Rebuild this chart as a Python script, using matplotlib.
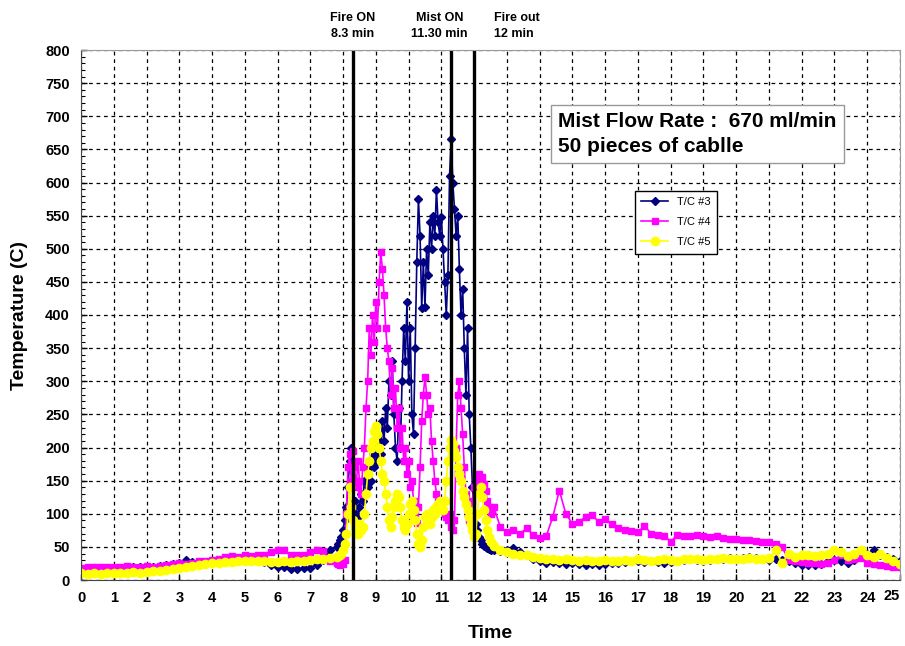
import numpy as np
import matplotlib
matplotlib.use('Agg')
import matplotlib.pyplot as plt
from matplotlib.ticker import MultipleLocator

plt.rcParams['font.family'] = ['Liberation Sans', 'DejaVu Sans']

# sample times (min): slow before fire, fine during fire, slow after
t_pre = np.linspace(0.0, 7.6, 39)
t_fire = np.linspace(7.8, 12.5, 95)
t_post = np.linspace(12.6, 25.0, 63)
time = np.concatenate([t_pre, t_fire, t_post])

tc3 = [15, 16, 16, 17, 17, 18, 18, 18, 19, 19,
       20, 20, 21, 22, 24, 25, 30, 27, 26, 27,
       28, 28, 29, 30, 30, 30, 29, 28, 27, 22,
       20, 19, 17, 16, 18, 18, 22, 30, 45,
       # fire
       50, 55, 60, 65, 75, 90, 110, 140, 180, 200,
       150, 120, 100, 95, 110, 130, 120, 150, 170, 140,
       170, 150, 190, 170, 200, 180, 210, 190, 240, 210,
       260, 230, 300, 280, 330, 250, 200, 180, 260, 200,
       300, 380, 330, 420, 300, 380, 250, 220, 350, 480,
       575, 520, 410, 480, 412, 500, 460, 540, 500, 550,
       520, 589, 540, 520, 548, 500, 450, 400, 460, 610,
       665, 600, 560, 520, 550, 470, 400, 440, 350, 280,
       380, 250, 200, 140, 100, 85, 75, 65, 60, 55,
       52, 50, 48, 47, 46,
       # after
       45, 44, 45, 48, 42, 38, 32, 28, 26, 27,
       25, 24, 25, 24, 23, 24, 23, 24, 26, 25,
       27, 29, 28, 27, 28, 27, 26, 27, 28, 30,
       32, 30, 29, 30, 31, 32, 33, 32, 33, 35,
       33, 31, 30, 32, 30, 28, 25, 22, 23, 22,
       24, 28, 30, 28, 26, 30, 34, 40, 45, 38,
       35, 32, 28]

tc4 = [18, 19, 19, 19, 20, 20, 20, 21, 20, 20,
       21, 20, 21, 22, 24, 25, 24, 26, 28, 28,
       30, 31, 34, 36, 35, 37, 36, 38, 38, 42,
       46, 45, 38, 37, 38, 42, 45, 44, 28,
       # fire
       25, 24, 23, 25, 24, 30, 100, 170, 190, 150,
       195, 170, 140, 180, 150, 130, 170, 200, 260, 300,
       380, 340, 400, 360, 420, 380, 450, 495, 470, 430,
       380, 350, 330, 280, 320, 260, 290, 230, 260, 200,
       230, 180, 200, 160, 180, 140, 150, 120, 100, 86,
       110, 170, 240, 280, 307, 280, 250, 260, 210, 180,
       150, 130, 120, 115, 110, 105, 100, 95, 90, 100,
       80, 75, 90, 200, 280, 300, 260, 220, 170, 130,
       100, 90, 100, 120, 140, 155, 150, 160, 150, 155,
       145, 135, 120, 110, 100,
       # after
       110, 80, 72, 75, 70, 78, 68, 64, 66, 95,
       135, 100, 85, 88, 95, 98, 88, 92, 84, 78,
       76, 74, 72, 82, 70, 68, 67, 58, 68, 66,
       67, 68, 66, 65, 66, 63, 62, 62, 61, 60,
       59, 58, 57, 55, 50, 30, 28, 27, 25, 26,
       24, 25, 30, 38, 30, 32, 33, 26, 24, 22,
       21, 20, 20]

tc5 = [10, 9, 10, 9, 10, 11, 10, 11, 12, 11,
       12, 13, 14, 15, 17, 18, 19, 21, 22, 24,
       25, 26, 27, 27, 28, 29, 28, 29, 28, 27,
       27, 28, 27, 28, 29, 30, 31, 32, 33,
       # fire
       34, 36, 38, 40, 45, 55, 70, 100, 140, 110,
       90, 80, 75, 70, 85, 75, 80, 100, 130, 160,
       180, 200, 210, 225, 232, 220, 200, 180, 160, 150,
       130, 110, 90, 80, 95, 110, 120, 130, 125, 110,
       90, 80, 75, 85, 100, 115, 120, 105, 90, 70,
       55, 50, 60, 80, 95, 100, 90, 85, 95, 105,
       100, 110, 115, 120, 110, 105, 120, 150, 180, 200,
       211, 205, 195, 185, 170, 160, 150, 135, 125, 115,
       105, 95, 85, 75, 65, 70, 100, 130, 140, 125,
       105, 90, 75, 65, 58,
       # after
       52, 45, 42, 40, 38, 37, 35, 33, 32, 31,
       30, 31, 30, 29, 30, 29, 28, 30, 29, 28,
       30, 29, 31, 30, 29, 30, 31, 30, 29, 31,
       32, 31, 30, 31, 32, 33, 32, 31, 32, 33,
       32, 31, 33, 45, 25, 40, 35, 37, 38, 36,
       38, 40, 45, 42, 36, 40, 45, 38, 35, 40,
       33, 28, 24]

events = [8.3, 11.3, 12.0]
event_labels = ['Fire ON\n8.3 min', 'Mist ON\n11.30 min', 'Fire out\n12 min']

fig = plt.figure(figsize=(9.05, 6.46), dpi=100)
ax = fig.add_axes([81/905, 1-580/646, 819/905, 530/646])

ax.plot(time, tc3, '-', color='#000080', lw=1.2, marker='D', ms=4.5, label='T/C #3')
ax.plot(time, tc4, '-', color='#ff00ff', lw=1.2, marker='s', ms=5, label='T/C #4')
ax.plot(time, tc5, '-', color='#ffff00', lw=1.2, marker='o', ms=6, label='T/C #5')

for x in events:
    ax.axvline(x, color='black', lw=2.4)

ax.set_xlim(0, 25)
ax.set_ylim(0, 800)
# integer ticks; the last label sits right-aligned at the plot edge
ax.set_xticks(range(26))
ax.set_xticklabels([str(i) for i in range(25)] + [''])
ax.text(25, -0.017, '25', transform=ax.get_xaxis_transform(), ha='right', va='top',
        fontsize=10.5, fontweight='bold')
ax.yaxis.set_major_locator(MultipleLocator(50))
ax.yaxis.set_minor_locator(MultipleLocator(10))
ax.tick_params(direction='in', length=4, width=1)
ax.tick_params(which='minor', direction='in', length=3, width=0.8)
ax.tick_params(axis='both', labelsize=10.5, pad=8)
for lab in ax.get_xticklabels() + ax.get_yticklabels():
    lab.set_fontweight('bold')

ax.grid(True, color='black', ls=(0, (3, 3)), lw=0.9)
for s in ['top', 'right']:
    ax.spines[s].set_color('#999999')
ax.spines['left'].set_color('#444444')
ax.spines['bottom'].set_color('#444444')

ax.set_xlabel('Time', fontsize=14, fontweight='bold', labelpad=14)
ax.set_ylabel('Temperature (C)', fontsize=14, fontweight='bold', labelpad=12)

# event labels above the plot
tr = ax.get_xaxis_transform()
ax.text(8.3, 1.045, event_labels[0], transform=tr, ha='center', va='center',
        fontsize=9, fontweight='bold', linespacing=1.4)
ax.text(10.95, 1.045, event_labels[1], transform=tr, ha='center', va='center',
        fontsize=9, fontweight='bold', linespacing=1.4)
ax.text(12.6, 1.045, event_labels[2], transform=tr, ha='left', va='center',
        fontsize=9, fontweight='bold', linespacing=1.4)

fig.text(558/905, 1-134/646, 'Mist Flow Rate :  670 ml/min\n50 pieces of cablle',
         fontsize=15, fontweight='bold', va='center', ha='left', linespacing=1.35,
         bbox=dict(boxstyle='square,pad=0.35', fc='white', ec='#999999', lw=1))

ax.legend(loc='upper left', bbox_to_anchor=(629/905, 1-185/646), bbox_transform=fig.transFigure,
          fontsize=8, fancybox=False, edgecolor='black', framealpha=1,
          handlelength=2.4, borderpad=0.6, labelspacing=0.9)

fig.savefig('out.png', dpi=100)
